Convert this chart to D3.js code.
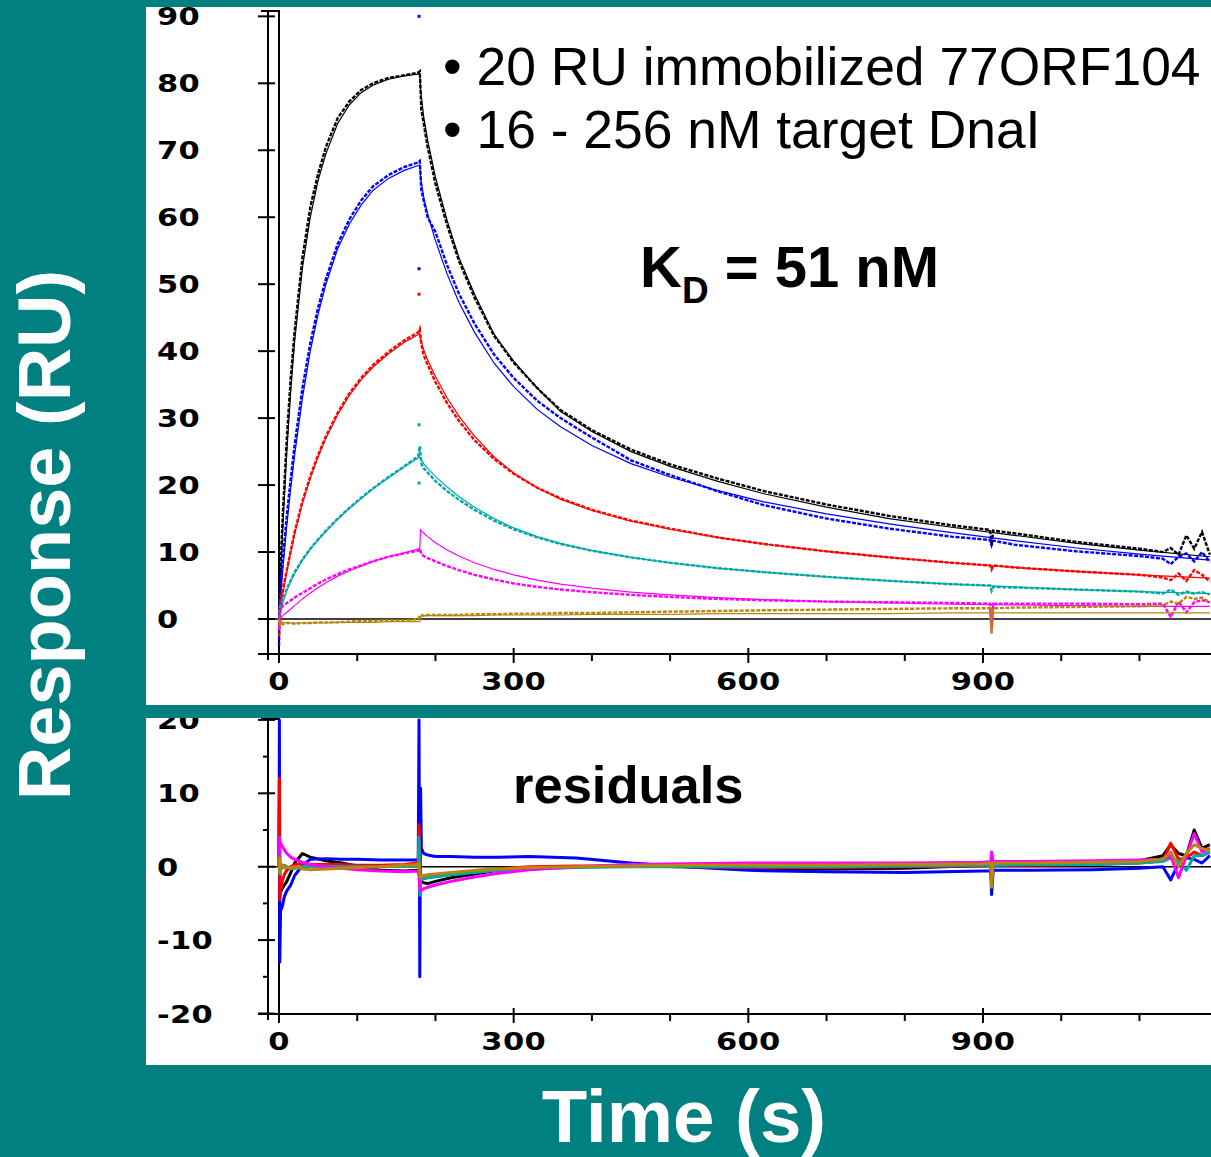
<!DOCTYPE html>
<html>
<head>
<meta charset="utf-8">
<script src="https://cdn.jsdelivr.net/npm/d3@7"></script>
<style>
  body { margin: 0; background: #008080; }
  svg { display: block; }
</style>
</head>
<body>
<svg id="chart" width="1211" height="1157"></svg>
<script>
// sensorgram: 6 concentrations of DnaI over immobilized 77ORF104, data + fit, and residuals

var seriesNames = ["256 nM", "128 nM", "64 nM", "32 nM", "16 nM", "0 nM"];
var seriesColors = ["#000000", "#0000ff", "#ff0000", "#00a8a8", "#ff00ff", "#b8860b"];

// measured response (RU) at these times (s)
var tData = [0, 1, 2, 5, 10, 15, 20, 30, 40, 50, 60, 75, 90, 105, 120, 140, 160, 178, 180, 182, 185, 190, 200, 215, 230, 250, 275, 300, 330, 360, 400, 450, 500, 560, 620, 700, 780, 860, 909, 911, 913, 940, 1020, 1100, 1130, 1140, 1150, 1160, 1170, 1180, 1190];
var dataBlack   = [0, -1, 8, 16, 27, 36, 43, 54, 61.5, 66.5, 70.5, 74.8, 77.3, 79, 80, 80.8, 81.2, 81.6, 81.8, 76, 74, 70.5, 65, 58.8, 53.5, 48, 42.3, 38.3, 34.5, 31.2, 28.2, 25.3, 23.1, 21, 19.1, 17.1, 15.4, 14, 13.3, 11, 13.2, 12.8, 11.5, 10.5, 10, 10.6, 9.6, 12.5, 10.5, 13, 9.6];
var dataBlue    = [-4, 3, 5.5, 9, 15.5, 21, 26, 34.5, 41.2, 46.5, 50.8, 56, 59.7, 62.5, 64.6, 66.3, 67.5, 68.2, 68.4, 64, 62.5, 60, 57.8, 52.8, 48.6, 44.1, 39.5, 36, 32.6, 30, 27.1, 23.7, 21.5, 19.1, 17, 15, 13.5, 12.3, 11.8, 11, 11.7, 11.1, 10.1, 9.4, 9, 8.2, 9.3, 9.8, 8.6, 10, 8.5];
var dataRed     = [-2.6, 2, 3, 4.5, 7.3, 10.2, 13, 17.6, 21.3, 24.5, 27.3, 30.8, 33.7, 36, 37.9, 39.9, 41.6, 42.8, 43.3, 41, 39.4, 38, 35.4, 32.2, 29.6, 26.7, 23.9, 21.7, 19.6, 18, 16.3, 14.7, 13.5, 12.2, 11.2, 10.1, 9.2, 8.4, 8, 7.4, 8, 7.7, 7.1, 6.6, 6.2, 5.8, 6.8, 5.7, 7.3, 6.6, 5.6];
var dataTeal    = [0, 1.5, 2.2, 3, 4.5, 5.8, 7, 8.9, 10.5, 11.9, 13.2, 15, 16.6, 18.1, 19.5, 21.2, 22.8, 24.3, 25.8, 23.2, 22.5, 21.9, 20.6, 19.1, 17.8, 16.3, 14.7, 13.4, 12.2, 11.2, 10.2, 9.2, 8.4, 7.6, 7, 6.3, 5.7, 5.2, 5, 4.2, 4.8, 4.7, 4.4, 4.1, 3.8, 4.4, 3.6, 4.1, 3.8, 4, 3.7];
var dataMagenta = [-1.6, 0.5, 1.5, 2, 2.4, 2.8, 3.2, 3.9, 4.6, 5.3, 5.9, 6.7, 7.4, 8, 8.6, 9.3, 9.8, 10.2, 10.5, 9.7, 9.4, 9.1, 8.6, 7.9, 7.3, 6.6, 5.9, 5.3, 4.8, 4.4, 4, 3.6, 3.3, 3, 2.8, 2.6, 2.5, 2.4, 2.3, -1.7, 2.3, 2.3, 2.3, 2.2, 2.3, 0.3, 2.6, 1, 2.5, 2.8, 2.5];
var dataBrown   = [0, -1, -0.5, -0.8, -0.6, -0.6, -0.7, -0.6, -0.6, -0.5, -0.5, -0.5, -0.4, -0.3, -0.3, -0.2, -0.2, 0, 0.5, 0.6, 0.5, 0.6, 0.6, 0.6, 0.6, 0.7, 0.7, 0.8, 0.8, 0.9, 0.9, 1, 1.1, 1.2, 1.3, 1.4, 1.5, 1.6, 1.6, -2.2, 1.6, 1.7, 1.8, 1.9, 2, 2.6, 2.3, 3.3, 3, 3.2, 2.5];
var dataSeries = [dataBlack, dataBlue, dataRed, dataTeal, dataMagenta, dataBrown];

// fitted curves
var tFit = [0, 2, 5, 10, 15, 20, 30, 40, 50, 60, 75, 90, 105, 120, 140, 160, 180, 181, 185, 190, 200, 215, 230, 250, 275, 300, 330, 360, 400, 450, 500, 560, 620, 700, 780, 860, 940, 1020, 1100, 1190];
var fitBlack   = [0, 6, 14, 25, 34, 41.5, 52.5, 60, 65.5, 69.5, 74, 76.8, 78.6, 79.7, 80.6, 81.1, 81.4, 79, 75, 71.5, 66, 59.5, 54, 48.5, 42.5, 38.5, 34.5, 31, 28, 25, 22.8, 20.6, 18.7, 16.7, 15, 13.7, 12.5, 11.3, 10.3, 9.3];
var fitBlue    = [0, 3, 7.5, 14, 19.5, 24.5, 33, 40, 45.5, 50, 55.3, 59, 61.8, 64, 65.8, 67, 67.8, 66, 63, 60.5, 56.5, 51.5, 47.3, 42.8, 38.2, 34.7, 31.3, 28.7, 25.9, 23.2, 21.2, 19.2, 17.5, 15.7, 14.2, 12.9, 11.7, 10.6, 9.7, 8.8];
var fitRed     = [0, 1.5, 3.8, 7, 10, 12.7, 17.3, 21, 24.2, 27, 30.5, 33.4, 35.7, 37.6, 39.6, 41.3, 42.6, 41.8, 40.2, 38.7, 36.2, 33, 30.3, 27.3, 24.2, 21.8, 19.6, 17.9, 16.2, 14.6, 13.4, 12.2, 11.2, 10.1, 9.2, 8.4, 7.7, 7.1, 6.6, 6.1];
var fitTeal    = [0, 1, 2.5, 4.2, 5.6, 6.8, 8.8, 10.4, 11.8, 13.1, 14.9, 16.5, 18, 19.4, 21.1, 22.7, 24.2, 24, 23.2, 22.5, 21.3, 19.7, 18.3, 16.7, 15, 13.6, 12.3, 11.3, 10.2, 9.2, 8.4, 7.6, 7, 6.3, 5.7, 5.2, 4.8, 4.4, 4.1, 3.8];
var fitMagenta = [0, 0.2, 0.5, 1, 1.5, 2, 3, 3.9, 4.7, 5.4, 6.4, 7.2, 7.9, 8.6, 9.3, 9.9, 10.5, 13.3, 12.8, 12.3, 11.4, 10.3, 9.4, 8.4, 7.4, 6.6, 5.8, 5.2, 4.6, 4, 3.6, 3.2, 2.9, 2.6, 2.4, 2.2, 2.1, 2, 1.9, 1.9];
var fitBrown   = [0, -0.3, -0.5, -0.6, -0.6, -0.6, -0.6, -0.6, -0.6, -0.6, -0.5, -0.5, -0.5, -0.5, -0.4, -0.4, -0.4, 0.4, 0.5, 0.5, 0.5, 0.5, 0.5, 0.5, 0.6, 0.6, 0.6, 0.6, 0.7, 0.7, 0.7, 0.8, 0.8, 0.8, 0.8, 0.9, 0.9, 0.9, 0.9, 0.9];
var fitSeries = [fitBlack, fitBlue, fitRed, fitTeal, fitMagenta, fitBrown];

// stray points at end of injection
var spikeT = 179;
var spikeVals = [[], [90, 52.3], [48.5], [29, 20.3], [], []];

// residuals (RU)
var resT = [0, 0.5, 1, 2, 4, 7, 10, 15, 20, 30, 40, 60, 80, 100, 130, 160, 178, 179, 180, 181, 182, 185, 190, 200, 220, 250, 280, 320, 380, 450, 520, 600, 700, 800, 900, 910, 911, 913, 960, 1040, 1100, 1130, 1140, 1150, 1160, 1170, 1180, 1190];
var resBlack   = [0, 8.7, -2, -3.5, -3, -2.5, -2, -0.8, 0.5, 1.8, 1.3, 0.8, 0.5, 0.1, -0.5, -0.6, -0.5, -1, -1.8, -1.5, -2, -2.2, -2.3, -2, -1.5, -1, -0.5, -0.2, 0, 0.1, 0, -0.2, -0.3, -0.2, 0.2, 0.3, -2.5, 0.3, 0.4, 0.6, 0.8, 1.5, 3, 1.8, 1.5, 5, 2.5, 3];
var resBlue    = [0, 20, -13, -6, -5.5, -4, -3.3, -2.5, -1.2, 0.2, 1, 1.1, 1, 1, 0.9, 0.9, 0.9, 20, -15, 10.7, 2.5, 1.8, 1.6, 1.4, 1.4, 1.3, 1.3, 1.4, 1.2, 0.5, 0, -0.5, -0.7, -0.8, -0.6, -0.6, -3.8, -0.5, -0.5, -0.4, -0.2, 0, -1.8, 0.5, 1.2, 1, 0.5, 1.5];
var resRed     = [0, 12, -4.5, -3.5, -2, -1, -0.5, 0, 0.3, 0.4, 0.3, 0.3, 0.3, 0.2, 0.2, 0.3, 0.5, 5.7, 1, -1, -1.5, -1.6, -1.5, -1.3, -1, -0.6, -0.3, 0, 0.1, 0.1, 0, -0.1, -0.1, 0, 0.1, 0.2, -1, 0.2, 0.2, 0.3, 0.5, 0.8, 3.2, 1, 1.2, 2, 1.5, 2];
var resTeal    = [0, 4, -1, -0.5, 0, 0.2, 0, -0.3, -0.2, 0, 0.1, 0.1, 0, 0, 0, 0.1, 0.2, 4, -3.9, -2, -1.8, -1.6, -1.5, -1.4, -1.1, -0.8, -0.5, -0.3, -0.1, 0, 0, 0, 0, 0.1, 0.2, 0.2, -1.5, 0.2, 0.3, 0.3, 0.5, 0.7, 1.2, 0.8, -0.5, 1.5, 1.5, 2];
var resMagenta = [0, 3.9, 3.5, 3.2, 2.8, 2.3, 1.8, 1.3, 1, 0.6, 0.3, 0, -0.2, -0.4, -0.6, -0.7, -0.6, -0.5, -3.2, -3.3, -3.2, -3, -2.8, -2.5, -2, -1.4, -0.9, -0.4, 0, 0.3, 0.4, 0.5, 0.5, 0.5, 0.6, 0.7, 2, 0.7, 0.7, 0.8, 0.9, 1, 1.5, -1.5, 1.5, 4.5, 2, 2.5];
var resBrown   = [0, 1.2, -0.8, 0.5, 0.2, -0.2, 0, -0.2, 0, -0.3, -0.4, -0.3, -0.2, -0.1, 0, 0.2, 0.3, 0.5, -1.2, -1.5, -1.3, -1.2, -1.1, -1, -0.8, -0.5, -0.3, -0.1, 0, 0.1, 0.2, 0.2, 0.2, 0.3, 0.4, 0.5, -2.8, 0.5, 0.5, 0.6, 0.7, 1, 2, 0, 1.8, 3, 2.5, 2.2];
var resSeries = [resBlack, resBlue, resRed, resTeal, resMagenta, resBrown];

// axes
var xTicks = d3.range(0, 1200, 100);
var xLabels = [0, 300, 600, 900];
var yTicksTop = d3.range(0, 100, 10);
var yTicksRes = d3.range(-20, 25, 5);

var svg = d3.select("#chart");

// panels
var topPanel = {x: 146, y: 7, w: 1065, h: 698};
var botPanel = {x: 146, y: 718, w: 1065, h: 347};

var x = d3.scaleLinear().domain([0, 900]).range([279, 983]);
var yTop = d3.scaleLinear().domain([0, 80]).range([619, 83.3]);
var yRes = d3.scaleLinear().domain([0, 10]).range([866.7, 793.3]);

var defs = svg.append("defs");
[["clipTop", topPanel], ["clipBot", botPanel]].forEach(function(c) {
    defs.append("clipPath").attr("id", c[0])
        .append("rect").attr("x", c[1].x).attr("y", c[1].y)
        .attr("width", c[1].w).attr("height", c[1].h);
});

svg.append("rect").attr("width", 1211).attr("height", 1157).attr("fill", "#008080");

function drawPanel(p, clipId, y, yTicks, majorTest, axisTop, axisBottomY) {
    svg.append("rect").attr("x", p.x).attr("y", p.y).attr("width", p.w).attr("height", p.h).attr("fill", "#ffffff");
    var g = svg.append("g").attr("clip-path", "url(#" + clipId + ")");

    var axisX = 268, zeroX = x(0);

    // zero line
    g.append("line").attr("x1", 258).attr("x2", 1211)
        .attr("y1", y(0)).attr("y2", y(0))
        .attr("stroke", "#000").attr("stroke-width", 1.5);

    // left axis + time-zero line
    g.append("line").attr("x1", axisX).attr("x2", axisX)
        .attr("y1", axisTop).attr("y2", axisBottomY + 6)
        .attr("stroke", "#000").attr("stroke-width", 2);
    g.append("line").attr("x1", zeroX).attr("x2", zeroX)
        .attr("y1", axisTop).attr("y2", axisBottomY + 9)
        .attr("stroke", "#000").attr("stroke-width", 2);
    g.append("line").attr("x1", axisX - 7).attr("x2", zeroX + 1)
        .attr("y1", axisTop).attr("y2", axisTop)
        .attr("stroke", "#000").attr("stroke-width", 2);

    // bottom axis
    g.append("line").attr("x1", 258).attr("x2", 1211)
        .attr("y1", axisBottomY).attr("y2", axisBottomY)
        .attr("stroke", "#000").attr("stroke-width", 2);

    g.selectAll("line.ytick").data(yTicks).enter().append("line")
        .attr("class", "ytick")
        .attr("x1", function(d) { return majorTest(d) ? 258 : 263; })
        .attr("x2", function(d) { return majorTest(d) ? 275 : 269; })
        .attr("y1", function(d) { return y(d); })
        .attr("y2", function(d) { return y(d); })
        .attr("stroke", "#000").attr("stroke-width", 2);

    g.selectAll("line.xtick").data(xTicks).enter().append("line")
        .attr("class", "xtick")
        .attr("x1", function(d) { return x(d); })
        .attr("x2", function(d) { return x(d); })
        .attr("y1", function(d) { return d % 300 == 0 ? axisBottomY - 6 : axisBottomY; })
        .attr("y2", function(d) { return d % 300 == 0 ? axisBottomY + 9 : axisBottomY + 7; })
        .attr("stroke", "#000").attr("stroke-width", 2);

    // tick labels
    g.selectAll("text.ylab").data(yTicks.filter(majorTest)).enter().append("text")
        .attr("class", "ylab")
        .attr("transform", function(d) { return "translate(157," + (y(d) + 9) + ") scale(1.22,1)"; })
        .attr("font-family", "DejaVu Sans").attr("font-weight", "bold").attr("font-size", 25)
        .attr("letter-spacing", 0.3)
        .text(function(d) { return d; });

    g.selectAll("text.xlab").data(xLabels).enter().append("text")
        .attr("class", "xlab")
        .attr("transform", function(d) { return "translate(" + x(d) + "," + (axisBottomY + 36) + ") scale(1.22,1)"; })
        .attr("text-anchor", "middle")
        .attr("font-family", "DejaVu Sans").attr("font-weight", "bold").attr("font-size", 25)
        .attr("letter-spacing", 0.3)
        .text(function(d) { return d; });

    return g;
}

var gTop = drawPanel(topPanel, "clipTop", yTop, yTicksTop, function(d) { return true; }, 11, 654);
var gBot = drawPanel(botPanel, "clipBot", yRes, yTicksRes, function(d) { return d % 10 == 0; }, 719, 1014);

// sensorgram curves
var lineTop = d3.line().x(function(d) { return x(d[0]); }).y(function(d) { return yTop(d[1]); });
var lineRes = d3.line().x(function(d) { return x(d[0]); }).y(function(d) { return yRes(d[1]); });

seriesNames.forEach(function(name, i) {
    gTop.append("path")
        .datum(d3.zip(tFit, fitSeries[i]))
        .attr("d", lineTop)
        .attr("fill", "none").attr("stroke", seriesColors[i]).attr("stroke-width", 1.2);
    gTop.append("path")
        .datum(d3.zip(tData, dataSeries[i]))
        .attr("d", lineTop)
        .attr("fill", "none").attr("stroke", seriesColors[i]).attr("stroke-width", 2.4)
        .attr("stroke-dasharray", "4,1.5");
    gTop.selectAll("rect.spike" + i).data(spikeVals[i]).enter().append("rect")
        .attr("class", "spike" + i)
        .attr("x", x(spikeT) - 1.5).attr("y", function(d) { return yTop(d) - 1.5; })
        .attr("width", 3).attr("height", 3)
        .attr("fill", seriesColors[i]);
});

seriesNames.forEach(function(name, i) {
    gBot.append("path")
        .datum(d3.zip(resT, resSeries[i]))
        .attr("d", lineRes)
        .attr("fill", "none").attr("stroke", seriesColors[i]).attr("stroke-width", 3)
        .attr("stroke-linejoin", "round");
});

// annotations
var notes = svg.append("g").attr("font-family", "Liberation Sans, Arial, sans-serif");
notes.append("text").attr("x", 443).attr("y", 85).attr("font-size", 53.4)
    .text("\u2022 20 RU immobilized 77ORF104");
notes.append("text").attr("x", 443).attr("y", 148).attr("font-size", 53.4)
    .text("\u2022 16 - 256 nM target DnaI");

var kd = notes.append("text").attr("x", 640).attr("y", 287)
    .attr("font-size", 58).attr("font-weight", "bold");
kd.append("tspan").text("K");
kd.append("tspan").attr("font-size", 37).attr("dy", 16).text("D");
kd.append("tspan").attr("dy", -16).text(" = 51 nM");

notes.append("text").attr("x", 513).attr("y", 803)
    .attr("font-size", 52.5).attr("font-weight", "bold")
    .text("residuals");

notes.append("text").attr("x", 684).attr("y", 1142)
    .attr("text-anchor", "middle").attr("fill", "#ffffff")
    .attr("font-size", 74.5).attr("font-weight", "bold")
    .text("Time (s)");

notes.append("text")
    .attr("transform", "translate(70,535) rotate(-90)")
    .attr("text-anchor", "middle").attr("fill", "#ffffff")
    .attr("font-size", 74).attr("font-weight", "bold")
    .text("Response (RU)");
</script>
</body>
</html>
